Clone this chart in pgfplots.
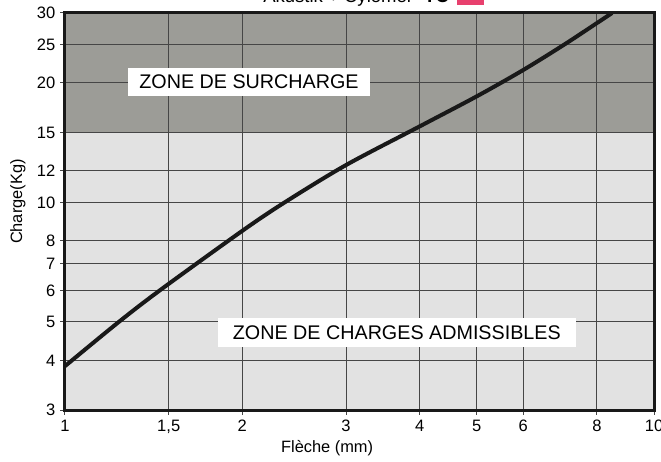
\documentclass[border=0pt]{standalone}
\usepackage{fontspec}
\setmainfont{Liberation Sans}
\usepackage{pgfplots}
\pgfplotsset{compat=1.18}
\definecolor{surcharge}{RGB}{156,156,151}
\definecolor{admis}{RGB}{226,226,226}
\definecolor{gridc}{RGB}{70,70,70}
\definecolor{rose}{RGB}{232,64,110}
\begin{document}
\begin{tikzpicture}
\begin{axis}[
  set layers,
  scale only axis,
  width=441.75pt, height=297.75pt,
  xmode=log, ymode=log,
  xmin=1, xmax=10, ymin=3, ymax=30,
  xtick={1,1.5,2,3,4,5,6,8,10},
  xticklabels={1,{1,5},2,3,4,5,6,8,10},
  ytick={3,4,5,6,7,8,10,12,15,20,25,30},
  yticklabels={3,4,5,6,7,8,10,12,15,20,25,30},
  minor tick num=0,
  xtick pos=bottom, ytick pos=left,
  tick align=outside,
  major tick length=3.75pt,
  tick style={gridc, line width=0.75pt},
  grid=major,
  major grid style={gridc, line width=0.75pt},
  axis line style={line width=2.25pt, black!90},
  ticklabel style={font=\fontsize{12.4}{14}\selectfont},
  /pgf/number format/assume math mode=true,
  xlabel={Flèche (mm)},
  ylabel={Charge(Kg)},
  label style={font=\fontsize{12.3}{14}\selectfont},
  xlabel style={at={(axis description cs:0.445,-0.095)}, anchor=center},
  ylabel style={at={(axis description cs:-0.08,0.525)}, anchor=center},
]
\addplot[fill=admis, draw=none, on layer=axis background] coordinates {(1,3) (10,3) (10,15) (1,15) (1,3)};
\addplot[fill=surcharge, draw=none, on layer=axis background] coordinates {(1,15) (10,15) (10,30) (1,30) (1,15)};
\addplot[black!90, line width=3pt, smooth] coordinates {
  (1,3.87) (1.23,4.98) (1.45,6.01) (2,8.48) (2.36,10.0) (3,12.42)
  (4,15.54) (5,18.5) (6,21.56) (7.06,25.04) (8,28.3) (8.49,30)
};
\node[fill=white, minimum width=181.5pt, minimum height=21pt, inner sep=0pt,
  font=\fontsize{14.8}{16}\selectfont] at (axis cs:2.053,20.1) {ZONE DE SURCHARGE};
\node[fill=white, minimum width=269pt, minimum height=21.75pt, inner sep=0pt,
  font=\fontsize{14.8}{16}\selectfont] at (axis cs:3.66,4.70) {ZONE DE CHARGES ADMISSIBLES\hspace{6pt}};
\end{axis}
\node[anchor=base west, inner sep=0pt, font=\fontsize{13.9}{16}\selectfont]
  at (148.5pt,305.25pt) {Akustik + Cylomer\hspace{0.6em}\textbf{TC}\hspace{6pt}\textcolor{rose}{\rule[-1.5pt]{20.25pt}{14pt}}};
\pgfresetboundingbox
\path[use as bounding box] (-48.75pt,-38.25pt) rectangle (447pt,307.5pt);
\end{tikzpicture}
\end{document}
